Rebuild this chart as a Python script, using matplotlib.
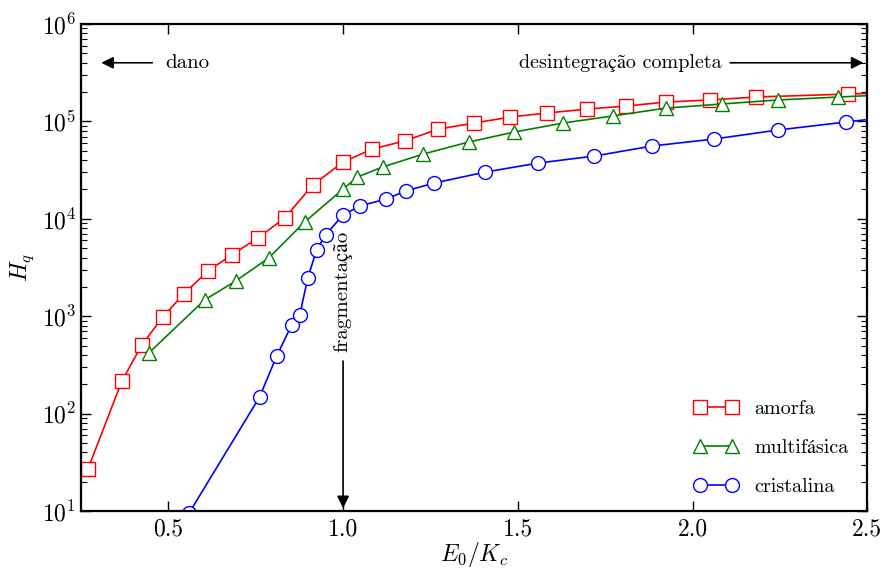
import matplotlib
matplotlib.use("Agg")
import matplotlib.pyplot as plt

plt.rcParams['font.family'] = ['cmr10', 'STIXGeneral', 'DejaVu Serif']
plt.rcParams['mathtext.fontset'] = 'cm'
plt.rcParams['axes.unicode_minus'] = False
plt.rcParams['axes.formatter.use_mathtext'] = True

# data
amorfa_x = [0.27, 0.367, 0.424, 0.484, 0.544, 0.613, 0.681, 0.756, 0.833, 0.913,
            1.0, 1.084, 1.176, 1.273, 1.376, 1.479, 1.584, 1.699, 1.81, 1.924,
            2.05, 2.181, 2.444, 2.6]
amorfa_y = [27, 216, 506, 982, 1690, 2910, 4250, 6350, 10200, 22200,
            38300, 52100, 63000, 83500, 96300, 111000, 122000, 134000, 144000, 158000,
            166000, 178000, 191000, 199000]

multi_x = [0.444, 0.604, 0.693, 0.787, 0.89, 1.0, 1.041, 1.113, 1.23, 1.359,
           1.49, 1.63, 1.773, 1.924, 2.084, 2.244, 2.416, 2.6]
multi_y = [419, 1470, 2300, 3960, 9270, 20200, 26900, 34000, 46300, 61400,
           77800, 96300, 114000, 137000, 151000, 166000, 178000, 191000]

crist_x = [0.56, 0.761, 0.81, 0.853, 0.876, 0.899, 0.924, 0.95, 0.999, 1.047,
           1.124, 1.179, 1.261, 1.407, 1.559, 1.719, 1.884, 2.061, 2.244, 2.439, 2.6]
crist_y = [9.6, 148, 390, 813, 1030, 2470, 4780, 6820, 10900, 13500,
           16000, 19300, 23300, 30200, 37400, 44100, 55900, 65900, 81600, 98600, 115000]

labels = ['amorfa', 'multifásica', 'cristalina']

fig = plt.figure(figsize=(8.85, 5.68), dpi=100)
ax = fig.add_axes([0.0915, 0.1004, 0.8885, 0.8573])

kw = dict(markerfacecolor='white', markeredgewidth=1.0, linewidth=1.2, markersize=10)
ax.plot(amorfa_x, amorfa_y, '-s', color='r', label=labels[0], **kw)
ax.plot(multi_x, multi_y, '-^', color='g', label=labels[1], **kw)
ax.plot(crist_x, crist_y, '-o', color='b', label=labels[2], **kw)

ax.set_yscale('log')
ax.set_xlim(0.25, 2.5)
ax.set_ylim(10, 1e6)
ax.set_xticks([0.5, 1.0, 1.5, 2.0, 2.5])
ax.set_xticklabels(['0.5', '1.0', '1.5', '2.0', '2.5'])
ax.tick_params(which='both', direction='in', top=True, right=True, labelsize=17)
ax.tick_params(which='major', length=7, width=1)
ax.tick_params(which='minor', length=4, width=0.8)
ax.tick_params(axis='x', pad=5)
for s in ax.spines.values():
    s.set_linewidth(1.6)

ax.set_xlabel(r'$E_0/K_c$', fontsize=17, labelpad=0)
ax.set_ylabel(r'$H_q$', fontsize=17, labelpad=4)

arrowprops = dict(arrowstyle='-|>', color='k', lw=1.2, mutation_scale=18)
ax.annotate('', xy=(0.3, 4e5), xytext=(0.462, 4e5), arrowprops=arrowprops)
ax.text(0.49, 4e5, 'dano', fontsize=15, va='center', ha='left')
ax.annotate('', xy=(2.497, 4e5), xytext=(2.10, 4e5), arrowprops=arrowprops)
ax.text(2.083, 4e5, 'desintegração completa', fontsize=14.5, va='center', ha='right')
ax.annotate('', xy=(1.0, 10), xytext=(1.0, 370), arrowprops=arrowprops)
ax.text(1.0, 430, 'fragmentação', fontsize=15, rotation=90, ha='center', va='bottom')

ax.legend(loc='lower right', bbox_to_anchor=(0.986, 0.014), frameon=False,
          numpoints=2, fontsize=14.5, handlelength=2.2, labelspacing=1.05,
          borderaxespad=0.0)

fig.savefig('out.png', dpi=100)
